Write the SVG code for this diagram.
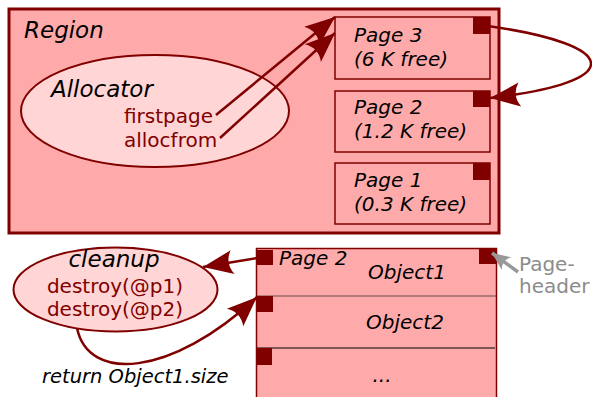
<svg xmlns="http://www.w3.org/2000/svg" width="592" height="397" viewBox="0 0 592 397">
  <style>
    .box { fill: #ffaaaa; stroke: #800000; }
    .oval { fill: #ffd5d5; stroke: #800000; stroke-width: 2; }
    .hdr { fill: #800000; stroke: none; }
    .lbl { font-family: "DejaVu Sans", sans-serif; font-style: oblique; fill: #000000; }
    .big { font-size: 23px; }
    .mid { font-size: 20px; }
    .red { font-family: "DejaVu Sans", sans-serif; font-size: 20px; fill: #800000; }
    .gray { font-family: "DejaVu Sans", sans-serif; font-size: 20px; fill: #8c8c8c; }
    .link { fill: none; stroke: #800000; stroke-width: 2.5; }
  </style>
  <defs>
    <marker id="head" markerUnits="userSpaceOnUse" orient="auto" overflow="visible" markerWidth="1" markerHeight="1" refX="0" refY="0">
      <path d="M 0 0 L -30 -12 Q -22 0 -30 12 Z" fill="#800000"/>
    </marker>
    <marker id="headGray" markerUnits="userSpaceOnUse" orient="auto" overflow="visible" markerWidth="1" markerHeight="1" refX="0" refY="0">
      <path d="M 0 0 L -18 -8 Q -12 0 -18 8 Z" fill="#999999"/>
    </marker>
  </defs>

  <!-- Region with its allocator and pages -->
  <g id="region">
    <rect class="box" x="9" y="9" width="490" height="224" stroke-width="3"/>
    <text class="lbl big" x="24" y="38">Region</text>
  </g>

  <g id="allocator">
    <ellipse class="oval" cx="155" cy="111" rx="134" ry="56"/>
    <text class="lbl big" x="51" y="97">Allocator</text>
    <text class="red" x="124" y="123">firstpage</text>
    <text class="red" x="124" y="147">allocfrom</text>
  </g>

  <g id="page3">
    <rect class="box" x="335" y="17" width="155" height="62" stroke-width="1.5"/>
    <rect class="hdr" x="473" y="17" width="17" height="17"/>
    <text class="lbl mid" x="354" y="42">Page 3</text>
    <text class="lbl mid" x="354" y="66">(6 K free)</text>
  </g>

  <g id="page2">
    <rect class="box" x="335" y="91" width="155" height="61" stroke-width="1.5"/>
    <rect class="hdr" x="473" y="91" width="17" height="16"/>
    <text class="lbl mid" x="354" y="114">Page 2</text>
    <text class="lbl mid" x="354" y="138">(1.2 K free)</text>
  </g>

  <g id="page1">
    <rect class="box" x="335" y="163" width="155" height="61" stroke-width="1.5"/>
    <rect class="hdr" x="473" y="163" width="17" height="17"/>
    <text class="lbl mid" x="354" y="187">Page 1</text>
    <text class="lbl mid" x="354" y="211">(0.3 K free)</text>
  </g>

  <!-- Page 2 opened up into its objects -->
  <g id="page2-detail">
    <rect class="box" x="256.5" y="248.5" width="240" height="160" stroke-width="1.5"/>
    <line x1="257" y1="296" x2="496" y2="296" stroke="#6b4b4b" stroke-width="1.2"/>
    <line x1="257" y1="348" x2="495" y2="348" stroke="#000000" stroke-width="1.2"/>
    <rect class="hdr" x="257" y="250" width="16" height="15"/>
    <rect class="hdr" x="479" y="249" width="17" height="15"/>
    <rect class="hdr" x="257" y="296" width="16" height="16"/>
    <rect class="hdr" x="257" y="348" width="15" height="17"/>
    <text class="lbl mid" x="279" y="265">Page 2</text>
    <text class="lbl mid" x="407" y="279" text-anchor="middle">Object1</text>
    <text class="lbl mid" x="405" y="329" text-anchor="middle">Object2</text>
    <text class="lbl mid" x="382" y="382" text-anchor="middle">...</text>
  </g>

  <g id="page-header-note">
    <text class="gray" x="519" y="271">Page-</text>
    <text class="gray" x="519" y="293">header</text>
  </g>

  <g id="cleanup">
    <ellipse class="oval" cx="115.5" cy="289.5" rx="102" ry="42"/>
    <text class="lbl big" x="114" y="267" text-anchor="middle">cleanup</text>
    <text class="red" x="115" y="293" text-anchor="middle">destroy(@p1)</text>
    <text class="red" x="115" y="316" text-anchor="middle">destroy(@p2)</text>
  </g>

  <g id="return-note">
    <text class="lbl" x="42" y="383" font-size="19.5">return Object1.size</text>
  </g>

  <!-- Connectors -->
  <g id="connectors">
    <path class="link" d="M 216 115 L 335 17" marker-end="url(#head)"/>
    <path class="link" d="M 220 138 L 335 33" marker-end="url(#head)"/>
    <path class="link" d="M 488 26 C 622 45 628 82 490 98" marker-end="url(#head)"/>
    <path class="link" d="M 257 258 L 203 267" marker-end="url(#head)"/>
    <path class="link" d="M 77 328 C 88 382 170 378 257 297" marker-end="url(#head)"/>
    <path d="M 518 272 L 492 253" fill="none" stroke="#999999" stroke-width="3.5" marker-end="url(#headGray)"/>
  </g>
</svg>
